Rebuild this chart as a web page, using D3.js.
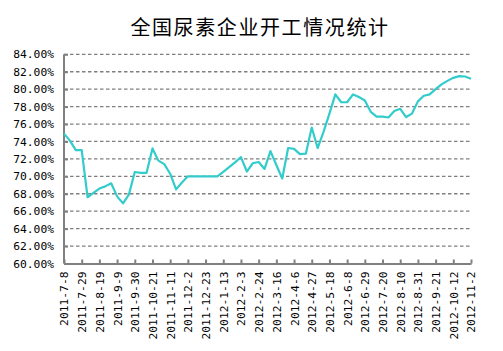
<!DOCTYPE html>
<html>
<head>
<meta charset="utf-8">
<script src="https://cdn.jsdelivr.net/npm/d3@7"></script>
<style>
  body { margin: 0; background: #fff; }
  svg { display: block; }
</style>
</head>
<body>
<div id="chart"></div>
<script>
const categories = [
  "2011-7-8","2011-7-15","2011-7-22","2011-7-29","2011-8-5","2011-8-12","2011-8-19","2011-8-26",
  "2011-9-2","2011-9-9","2011-9-16","2011-9-23","2011-9-30","2011-10-7","2011-10-14","2011-10-21",
  "2011-10-28","2011-11-4","2011-11-11","2011-11-18","2011-11-25","2011-12-2","2011-12-9","2011-12-16",
  "2011-12-23","2011-12-30","2012-1-6","2012-1-13","2012-1-20","2012-1-27","2012-2-3","2012-2-10",
  "2012-2-17","2012-2-24","2012-3-2","2012-3-9","2012-3-16","2012-3-23","2012-3-30","2012-4-6",
  "2012-4-13","2012-4-20","2012-4-27","2012-5-4","2012-5-11","2012-5-18","2012-5-25","2012-6-1",
  "2012-6-8","2012-6-15","2012-6-22","2012-6-29","2012-7-6","2012-7-13","2012-7-20","2012-7-27",
  "2012-8-3","2012-8-10","2012-8-17","2012-8-24","2012-8-31","2012-9-7","2012-9-14","2012-9-21",
  "2012-9-28","2012-10-5","2012-10-12","2012-10-19","2012-10-26","2012-11-2"
];

// 开工率 (%)
const rates = [
  74.9, 74.1, 73.0, 73.0, 67.6, 68.1, 68.6, 68.85, 69.2, 67.7,
  66.9, 67.9, 70.5, 70.4, 70.4, 73.2, 71.8, 71.4, 70.3, 68.5,
  69.3, 70.0, 70.0, 70.0, 70.0, 70.0, 70.0, 70.5, 71.05, 71.6,
  72.2, 70.55, 71.5, 71.65, 70.85, 72.9, 71.3, 69.75, 73.25, 73.15,
  72.55, 72.6, 75.6, 73.25, 75.1, 77.2, 79.4, 78.5, 78.5, 79.4,
  79.1, 78.7, 77.4, 76.85, 76.85, 76.75, 77.5, 77.75, 76.8, 77.2,
  78.6, 79.25, 79.4, 80.0, 80.55, 80.95, 81.3, 81.5, 81.45, 81.2
];

const tickLabels = [
  "2011-7-8","2011-7-29","2011-8-19","2011-9-9","2011-9-30","2011-10-21","2011-11-11","2011-12-2",
  "2011-12-23","2012-1-13","2012-2-3","2012-2-24","2012-3-16","2012-4-6","2012-4-27","2012-5-18",
  "2012-6-8","2012-6-29","2012-7-20","2012-8-10","2012-8-31","2012-9-21","2012-10-12","2012-11-2"
];

const yTicks = [60, 62, 64, 66, 68, 70, 72, 74, 76, 78, 80, 82, 84];

const W = 503, H = 351;
const margin = { top: 54.3, right: 32, bottom: 87.5, left: 64 };
const width = W - margin.left - margin.right,
      height = H - margin.top - margin.bottom;

const svg = d3.select("#chart")
  .append("svg")
  .attr("width", W)
  .attr("height", H);

svg.append("text")
  .attr("x", 260)
  .attr("y", 35)
  .attr("text-anchor", "middle")
  .style("font-family", "'Noto Sans CJK SC', sans-serif")
  .style("font-size", "20px")
  .style("letter-spacing", "1.6px")
  .style("fill", "#000")
  .text("全国尿素企业开工情况统计");

const g = svg.append("g")
  .attr("transform", `translate(${margin.left}, ${margin.top})`);

const x = d3.scalePoint()
  .domain(categories)
  .range([0, width]);

const y = d3.scaleLinear()
  .domain([60, 84])
  .range([height, 0]);

// grid lines
g.append("g")
  .selectAll("line")
  .data(yTicks.filter(d => d > 60))
  .enter()
  .append("line")
  .attr("x1", 0)
  .attr("x2", width)
  .attr("y1", d => y(d))
  .attr("y2", d => y(d))
  .style("stroke", "#808080")
  .style("stroke-width", 1.3)
  .style("stroke-dasharray", "3.5,2.5");

const yAxis = d3.axisLeft(y)
  .tickValues(yTicks)
  .tickSize(-4)
  .tickPadding(10)
  .tickFormat(d => d.toFixed(2) + "%");

const yG = g.append("g").call(yAxis);

const xAxis = d3.axisBottom(x)
  .tickValues(tickLabels)
  .tickSize(-4)
  .tickSizeOuter(0);

const xG = g.append("g")
  .attr("transform", `translate(0, ${height})`)
  .call(xAxis);

xG.selectAll("text")
  .attr("transform", "rotate(-90)")
  .attr("x", -8)
  .attr("y", 0)
  .attr("dy", "0.35em")
  .style("text-anchor", "end");

[yG, xG].forEach(a => {
  a.select(".domain").style("stroke", "#808080").style("stroke-width", 2);
  a.selectAll(".tick line").style("stroke", "#808080").style("stroke-width", 2);
  a.selectAll("text")
    .style("font-family", "'DejaVu Sans Mono', monospace")
    .style("font-size", "11.3px")
    .style("fill", "#000");
});
yG.select(".domain").attr("d", `M0,${height}V0`);

const line = d3.line()
  .x((d, i) => x(categories[i]))
  .y(d => y(d));

g.append("path")
  .datum(rates)
  .attr("d", line)
  .style("fill", "none")
  .style("stroke", "#33CCCC")
  .style("stroke-width", 2.2)
  .style("stroke-linejoin", "round");
</script>
</body>
</html>
